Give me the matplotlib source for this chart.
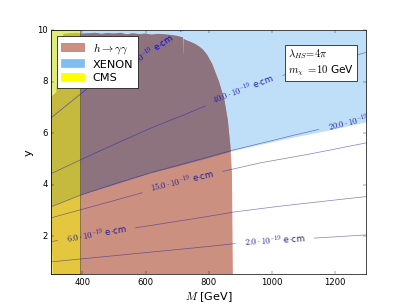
import numpy as np
import matplotlib
matplotlib.use('Agg')
import matplotlib.pyplot as plt
from matplotlib.patches import Rectangle

plt.style.use('classic')
plt.rcParams['figure.facecolor'] = 'white'
plt.rcParams['savefig.facecolor'] = 'white'

########################################
# data

# h -> gamma gamma excluded region (outline, M in GeV, y)
hgg_M = [306, 877, 874, 869, 861, 850, 833, 811, 795, 782, 770, 757, 740, 726,
         721, 720.5, 719.5, 719, 700, 680, 660, 640, 620, 600, 580, 560, 540,
         520, 500, 480, 460, 440, 420, 400, 380, 360, 340, 330, 322, 318,
         300.5, 300.5, 304]
hgg_y = [0.5, 0.5, 4.5, 5.5, 6.5, 7.3, 8.0, 8.7, 9.05, 9.25, 9.37, 9.47, 9.56, 9.63,
         9.66, 9.1, 9.1, 9.72, 9.78, 9.82, 9.84, 9.86, 9.83, 9.87, 9.85, 9.88, 9.84,
         9.9, 9.87, 9.89, 9.86, 9.9, 9.88, 9.87, 9.9, 9.88, 9.86, 9.3, 8.5, 7.6,
         7.4, 1.5, 1.3]

# XENON excluded above this line
xenon_M = [300, 392, 500, 614, 700, 785, 874, 956, 1050, 1169, 1300]
xenon_y = [3.15, 3.6, 4.0, 4.45, 4.72, 5.0, 5.31, 5.54, 5.8, 6.09, 6.44]

# CMS excluded below this mass
cms_M = 392

# EDM contours (units of 1e-19 e cm)
edm_levels = [2.0, 6.0, 15.0, 20.0, 40.0, 90.0]

edm2_M = [300, 418, 544, 614, 700, 785, 874, 1000, 1143, 1300]
edm2_y = [0.99, 1.13, 1.28, 1.36, 1.47, 1.57, 1.69, 1.82, 1.92, 2.04]

edm6_M = [300, 418, 544, 614, 700, 785, 874, 1000, 1143, 1300]
edm6_y = [1.78, 2.0, 2.27, 2.4, 2.57, 2.73, 2.92, 3.12, 3.32, 3.53]

edm15_M = [300, 418, 573, 700, 852, 963, 1106, 1300]
edm15_y = [2.7, 3.1, 3.62, 4.1, 4.53, 4.84, 5.15, 5.62]

edm20_M = [300, 392, 500, 614, 700, 785, 874, 956, 1050, 1169, 1300]
edm20_y = [3.13, 3.58, 4.02, 4.45, 4.74, 5.02, 5.33, 5.57, 5.86, 6.2, 6.58]

edm40_M = [300, 418, 544, 614, 700, 785, 874, 1000, 1143, 1300]
edm40_y = [4.42, 5.1, 5.8, 6.18, 6.6, 7.03, 7.55, 8.13, 8.6, 9.14]

edm90_M = [300, 418, 544, 614, 700, 720]
edm90_y = [6.59, 7.76, 8.59, 9.15, 9.87, 10.02]

edm_lab_M = [1009, 445, 716, 1278, 910, 601]
edm_colors = ['#1c1c8c', '#1c1c8c', '#1c1c96', '#2020b0', '#1c1cb8', '#0000ff']

xticks = [400, 600, 800, 1000, 1200]
yticks = [2, 4, 6, 8, 10]

########################################

fig = plt.figure(figsize=(8, 6), dpi=50.875)
ax = fig.add_subplot(111)
ax.set_xlim(300, 1300)
ax.set_ylim(0.5, 10)
renderer = fig.canvas.get_renderer()

c_hgg = '#cc9080'
c_over = '#8c737e'
c_xenon = '#80bef0'

ax.fill_between(xenon_M, xenon_y, 10, facecolor=c_xenon, alpha=0.5, lw=0, zorder=1)
hgg = ax.fill(hgg_M, hgg_y, facecolor=c_hgg, lw=0, zorder=1.1)[0]
over = ax.fill_between(xenon_M, xenon_y, 10, facecolor=c_over, lw=0, zorder=1.2)
over.set_clip_path(hgg)
ax.fill_betweenx([0.5, 10], 300, cms_M, facecolor=(1, 1, 0, 0.5),
                 edgecolor=(0.3, 0.3, 0.2, 0.8), lw=1.0, zorder=2)


def edm_line(Ms, ys, level, lab_M, color, pad=9):
    Ms = np.asarray(Ms, float)
    ys = np.asarray(ys, float)
    # straight segments sampled finely so a gap can be cut for the label
    t = np.linspace(0, len(Ms) - 1, 800)
    mm = np.interp(t, np.arange(len(Ms)), Ms)
    yy = np.interp(t, np.arange(len(Ms)), ys)
    pts = ax.transData.transform(np.column_stack([mm, yy]))
    s = np.concatenate([[0], np.cumsum(np.hypot(*np.diff(pts, axis=0).T))])
    i = np.argmin(abs(mm - lab_M))
    j0, j1 = max(i - 8, 0), min(i + 8, len(mm) - 1)
    d = pts[j1] - pts[j0]
    ang = np.degrees(np.arctan2(d[1], d[0]))
    label = r'$%.1f\cdot 10^{-19}$ e$\cdot$cm' % level
    txt = ax.text(mm[i], yy[i], label, fontsize=12, color=color,
                  ha='center', va='center', zorder=4, clip_on=True)
    w = txt.get_window_extent(renderer).width
    txt.set_rotation(ang)
    txt.set_rotation_mode('anchor')
    yy = yy.copy()
    yy[abs(s - s[i]) < w / 2 + pad] = np.nan
    ax.plot(mm, yy, color=color, alpha=0.55, lw=1.0, zorder=3)


edm_data = [(edm2_M, edm2_y), (edm6_M, edm6_y), (edm15_M, edm15_y),
            (edm20_M, edm20_y), (edm40_M, edm40_y), (edm90_M, edm90_y)]
for (Ms, ys), lev, lm, col in zip(edm_data, edm_levels, edm_lab_M, edm_colors):
    edm_line(Ms, ys, lev, lm, col)

ax.text(0.752, 0.93, r'$\lambda_{HS}\!=\!4\pi$' + '\n' + r'$m_\chi\ =\!10$ GeV',
        transform=ax.transAxes, ha='left', va='top', fontsize=15, zorder=6,
        bbox=dict(boxstyle='square,pad=0.3', fc='white', ec='black'))

handles = [Rectangle((0, 0), 1, 1, fc=c_hgg, ec='#b07868'),
           Rectangle((0, 0), 1, 1, fc=c_xenon, ec=c_xenon),
           Rectangle((0, 0), 1, 1, fc='yellow', ec='yellow')]
leg = ax.legend(handles, [r'$h\to\gamma\gamma$', 'XENON', 'CMS'], loc=2,
                fontsize=16, labelspacing=0.35)
leg.set_zorder(10)

ax.set_xticks(xticks)
ax.set_yticks(yticks)
ax.set_xlabel(r'$M$ [GeV]', fontsize=16)
ax.set_ylabel('y', fontsize=16)

fig.savefig('out.png', dpi=50.875)
